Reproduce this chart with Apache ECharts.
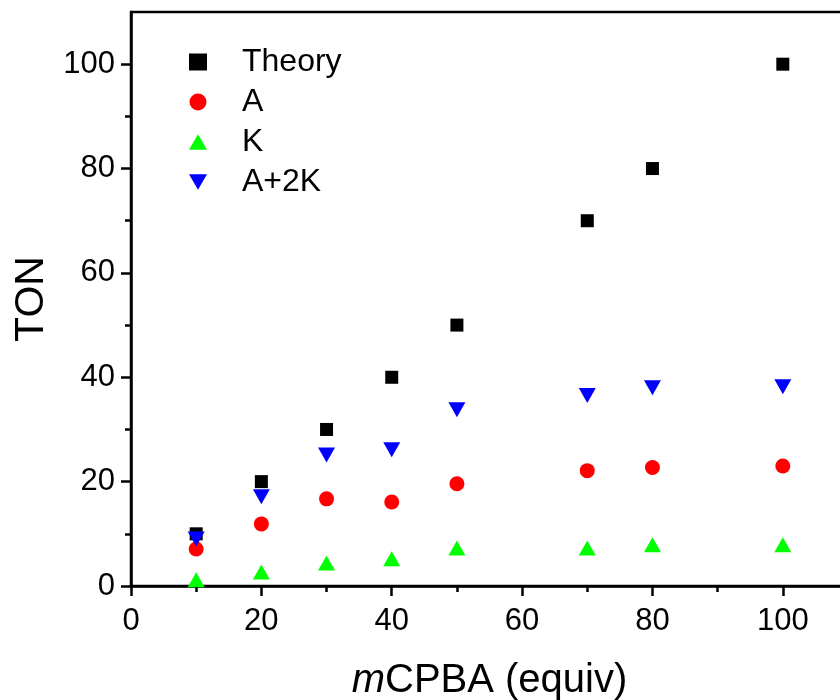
<!DOCTYPE html>
<html><head><meta charset="utf-8">
<script src="https://cdn.jsdelivr.net/npm/echarts@6/dist/echarts.min.js"></script>
<style>html,body{margin:0;padding:0;background:#fff}#c{width:840px;height:700px}</style>
</head><body><div id="c"></div>
<script>
const xValues = [10, 20, 30, 40, 50, 70, 80, 100];
const theory = [10, 20, 30, 40, 50, 70, 80, 100];
const seriesA = [7.1, 11.9, 16.7, 16.1, 19.6, 22.1, 22.7, 23.0];
const seriesK = [1.2, 2.7, 4.4, 5.2, 7.3, 7.3, 7.9, 7.9];
const seriesA2K = [9.0, 17.1, 25.1, 26.1, 33.8, 36.5, 38.0, 38.2];
const tickLabels = [0, 20, 40, 60, 80, 100];

const pairs = arr => arr.map((v, i) => [xValues[i], v]);
const font = 'Liberation Sans, Arial, sans-serif';
const downTri = 'path://M0,0 L20,0 L10,17 Z';
const upTri = 'path://M10,0 L20,17 L0,17 Z';
const chart = echarts.init(document.getElementById('c'));
chart.setOption({
  animation: false,
  backgroundColor: '#fff',
  grid: { left: 131, top: 12, width: 717, height: 574, outerBoundsMode: 'none', containLabel: false,
          show: true, borderColor: '#000', borderWidth: 2.5, backgroundColor: 'transparent' },
  legend: {
    orient: 'vertical', left: 184, top: 41, itemGap: 8, itemWidth: 18, itemHeight: 17,
    textStyle: { fontFamily: font, fontSize: 32, color: '#000', padding: [0, 0, 0, 30] },
    data: [
      { name: 'Theory', icon: 'rect', itemStyle: { color: '#000' } },
      { name: 'A', icon: 'circle' },
      { name: 'K', icon: upTri },
      { name: 'A+2K', icon: downTri }
    ]
  },
  xAxis: {
    type: 'value', min: 0, max: 110, interval: 20,
    name: '{i|m}CPBA (equiv)', nameLocation: 'middle', nameGap: 75,
    nameTextStyle: { fontFamily: font, fontSize: 40, color: '#000', rich: { i: { fontFamily: font, fontSize: 40, fontStyle: 'italic', color: '#000' } } },
    axisLine: { lineStyle: { color: '#000', width: 2.5 } },
    axisTick: { show: true, inside: false, length: 10, lineStyle: { width: 2.5, color: '#000' }, customValues: tickLabels },
    minorTick: { show: true, splitNumber: 2, length: 6, lineStyle: { width: 2.5, color: '#000' } },
    axisLabel: { fontFamily: font, fontSize: 31, color: '#000', margin: 20, customValues: tickLabels },
    splitLine: { show: false }
  },
  yAxis: {
    type: 'value', min: 0, max: 110, interval: 20,
    name: 'TON', nameLocation: 'middle', nameGap: 76, nameRotate: 90,
    nameTextStyle: { fontFamily: font, fontSize: 41, color: '#000' },
    axisLine: { lineStyle: { color: '#000', width: 2.5 } },
    axisTick: { show: true, inside: false, length: 10, lineStyle: { width: 2.5, color: '#000' }, customValues: tickLabels },
    minorTick: { show: true, splitNumber: 2, length: 6, lineStyle: { width: 2.5, color: '#000' } },
    axisLabel: { fontFamily: font, fontSize: 31, color: '#000', margin: 16, customValues: tickLabels },
    splitLine: { show: false }
  },
  series: [
    { name: 'Theory', type: 'scatter', symbol: 'rect', symbolSize: 13, itemStyle: { color: '#000', opacity: 1 }, data: pairs(theory) },
    { name: 'A', type: 'scatter', symbol: 'circle', symbolSize: 15, itemStyle: { color: '#ff0000', opacity: 1 }, data: pairs(seriesA) },
    { name: 'K', type: 'scatter', symbol: upTri, symbolSize: [17, 15], itemStyle: { color: '#00ff00', opacity: 1 }, data: pairs(seriesK) },
    { name: 'A+2K', type: 'scatter', symbol: downTri, symbolSize: [17, 15], itemStyle: { color: '#0000ff', opacity: 1 }, data: pairs(seriesA2K) }
  ]
});
</script></body></html>
